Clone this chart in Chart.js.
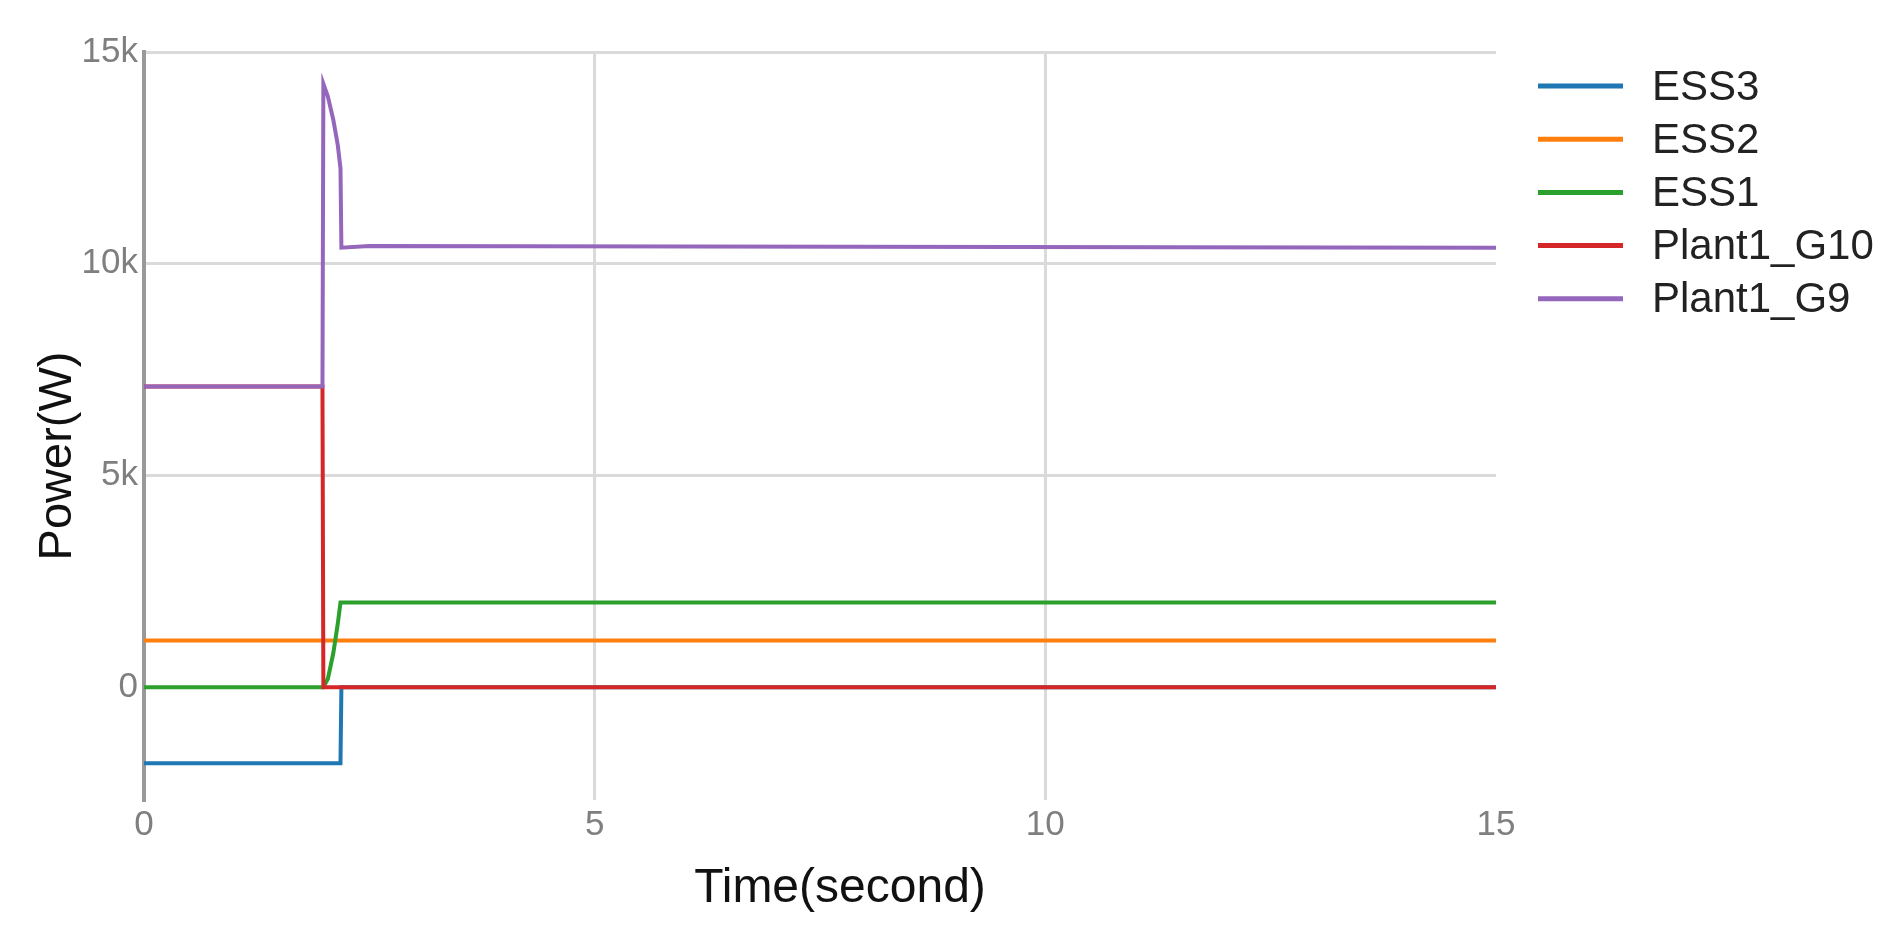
<!DOCTYPE html>
<html>
<head>
<meta charset="utf-8">
<title>Power(W)</title>
<script src="https://cdn.jsdelivr.net/npm/chart.js@4.4.1/dist/chart.umd.min.js"></script>
<style>
    html, body { margin: 0; padding: 0; background: #fff; }
    .chart-box { position: relative; width: 1896px; height: 932px; }
</style>
</head>
<body>
<div class="chart-box">
    <canvas id="powerChart"></canvas>
</div>
<script>
// data (time in seconds, power in W)
const timeSec    = [0, 1.98, 1.99, 2.04, 2.1, 2.15, 2.18, 2.19, 2.5, 15];
const ess3       = [-1800, -1800, -1800, -1800, -1800, -1800, -1800, 0, 0, 0];
const ess2       = [1100, 1100, 1100, 1100, 1100, 1100, 1100, 1100, 1100, 1100];
const ess1       = [0, 0, 0, 200, 800, 1500, 2000, 2000, 2000, 2000];
const plant1G10  = [7100, 7100, 0, 0, 0, 0, 0, 0, 0, 0];
const plant1G9   = [7100, 7100, 14250, 13950, 13400, 12800, 12250, 10380, 10420, 10380];

const seriesNames = ['ESS3', 'ESS2', 'ESS1', 'Plant1_G10', 'Plant1_G9'];
const seriesValues = [ess3, ess2, ess1, plant1G10, plant1G9];
const seriesColors = ['#1f77b4', '#ff7f0e', '#2ca02c', '#d62728', '#9467bd'];

const xTickValues = [0, 5, 10, 15];
const yTickValues = [0, 5000, 10000, 15000];
const yTickLabels = ['0', '5k', '10k', '15k'];

const FONT = "'Liberation Sans', Arial, sans-serif";

// legend on the right, drawn the plotly way (line + name)
const sideLegend = {
    id: 'sideLegend',
    afterDraw(chart) {
        const ctx = chart.ctx;
        ctx.save();
        chart.data.datasets.forEach((ds, i) => {
            const y = 86 + i * 53.2;
            ctx.strokeStyle = ds.borderColor;
            ctx.lineWidth = 5;
            ctx.beginPath();
            ctx.moveTo(1538, y);
            ctx.lineTo(1623, y);
            ctx.stroke();
            ctx.fillStyle = '#222';
            ctx.font = '42px ' + FONT;
            ctx.textAlign = 'left';
            ctx.textBaseline = 'middle';
            ctx.fillText(ds.label, 1652, y + 2);
        });
        ctx.restore();
    }
};

// axis titles sit a bit off the plot centre in the original
const axisTitles = {
    id: 'axisTitles',
    afterDraw(chart) {
        const ctx = chart.ctx;
        ctx.save();
        ctx.fillStyle = '#111';
        ctx.textAlign = 'center';
        ctx.textBaseline = 'middle';
        ctx.font = '48px ' + FONT;
        ctx.fillText('Time(second)', 840, 889);
        ctx.translate(58, 456);
        ctx.rotate(-Math.PI / 2);
        ctx.font = '47px ' + FONT;
        ctx.fillText('Power(W)', 0, 0);
        ctx.restore();
    }
};

const datasets = seriesNames.map((name, i) => ({
    label: name,
    data: timeSec.map((t, k) => ({ x: t, y: seriesValues[i][k] })),
    borderColor: seriesColors[i],
    backgroundColor: seriesColors[i],
    borderWidth: 4,
    pointRadius: 0,
    tension: 0,
    fill: false,
    order: seriesNames.length - i   // last trace on top, like plotly
}));

new Chart(document.getElementById('powerChart'), {
    type: 'line',
    data: { datasets: datasets },
    options: {
        responsive: true,
        maintainAspectRatio: false,
        animation: false,
        layout: { padding: { left: 0, top: 52, right: 400, bottom: 0 } },
        plugins: {
            legend: { display: false },
            tooltip: { enabled: false }
        },
        scales: {
            x: {
                type: 'linear',
                min: 0,
                max: 15,
                afterFit: (scale) => { scale.height = 132; },
                afterBuildTicks: (scale) => {
                    scale.ticks = xTickValues.map(v => ({ value: v }));
                },
                grid: {
                    color: (c) => (c.tick && (c.tick.value === 0 || c.tick.value === 15)) ? 'rgba(0,0,0,0)' : '#dadada',
                    lineWidth: 3,
                    drawTicks: false
                },
                border: { display: false },
                ticks: {
                    color: '#7f7f7f',
                    font: { family: FONT, size: 35 },
                    padding: 4,
                    maxRotation: 0,
                    callback: (v) => String(v)
                }
            },
            y: {
                min: -2665,
                max: 15000,
                afterFit: (scale) => { scale.width = 144; },
                afterBuildTicks: (scale) => {
                    scale.ticks = yTickValues.map(v => ({ value: v }));
                },
                grid: {
                    color: '#dadada',
                    lineWidth: 3,
                    drawTicks: false
                },
                border: { display: true, color: '#999999', width: 4 },
                ticks: {
                    color: '#7f7f7f',
                    font: { family: FONT, size: 35 },
                    padding: 6,
                    callback: (v) => {
                        const idx = yTickValues.indexOf(v);
                        return idx >= 0 ? yTickLabels[idx] : '';
                    }
                }
            }
        }
    },
    plugins: [sideLegend, axisTitles]
});
</script>
</body>
</html>
